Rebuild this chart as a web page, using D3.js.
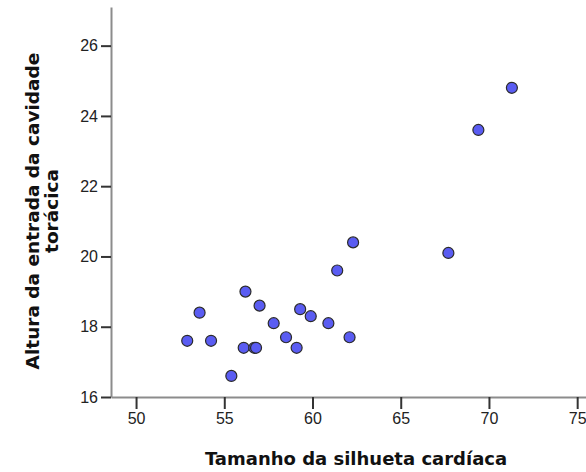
<!DOCTYPE html>
<html>
<head>
<meta charset="utf-8">
<script src="https://cdn.jsdelivr.net/npm/d3@7"></script>
<style>
  body { margin: 0; background: #fff; }
  svg text { font-family: "Liberation Sans", Arial, sans-serif; }
</style>
</head>
<body>
<div class="chart"></div>
<script>
// Tamanho da silhueta cardíaca (x) vs Altura da entrada da cavidade torácica (y)
const silhueta = [52.9, 53.6, 54.25, 55.4, 56.1, 56.2, 56.7, 56.8, 57.0, 57.8, 58.5,
                  59.1, 59.3, 59.9, 60.9, 61.4, 62.1, 62.3, 67.7, 69.4, 71.3];
const cavidade = [17.6, 18.4, 17.6, 16.6, 17.4, 19.0, 17.4, 17.4, 18.6, 18.1, 17.7,
                  17.4, 18.5, 18.3, 18.1, 19.6, 17.7, 20.4, 20.1, 23.6, 24.8];
const xTicks = [50, 55, 60, 65, 70, 75];
const yTicks = [16, 18, 20, 22, 24, 26];

const width = 586, height = 472;
const plot = {left: 111, right: 586, top: 7, bottom: 397};

const x = d3.scaleLinear()
  .domain([48.58, 75.5])
  .range([plot.left, plot.right]);

const y = d3.scaleLinear()
  .domain([16, 27.1])
  .range([plot.bottom, plot.top]);

const svg = d3.select('.chart').append('svg')
  .attr('width', width)
  .attr('height', height);

const xAxis = d3.axisBottom(x).tickValues(xTicks).tickSize(12).tickPadding(4).tickSizeOuter(0);
const yAxis = d3.axisLeft(y).tickValues(yTicks).tickSize(10).tickPadding(3).tickSizeOuter(0);

const gX = svg.append('g')
  .attr('transform', `translate(0, ${plot.bottom})`)
  .call(xAxis);

const gY = svg.append('g')
  .attr('transform', `translate(${plot.left}, 0)`)
  .call(yAxis);

[gX, gY].forEach(g => {
  g.select('.domain').attr('stroke', '#8c8c8c').attr('stroke-width', 2);
  g.selectAll('.tick line').attr('stroke', '#333').attr('stroke-width', 2);
  g.selectAll('.tick text')
    .attr('fill', '#222')
    .style('font-size', '16px')
    .style('font-family', '"Liberation Sans", Arial, sans-serif');
});

svg.append('text')
  .text('Tamanho da silhueta cardíaca')
  .attr('x', 356)
  .attr('y', 465)
  .attr('text-anchor', 'middle')
  .style('font-family', '"DejaVu Sans", sans-serif')
  .attr('font-size', 18)
  .attr('font-weight', 'bold')
  .attr('fill', '#111');

const yLabel = svg.append('text')
  .attr('transform', 'translate(0, 211) rotate(-90)')
  .attr('text-anchor', 'middle')
  .style('font-family', '"DejaVu Sans", sans-serif')
  .attr('font-size', 18.5)
  .attr('font-weight', 'bold')
  .attr('fill', '#111');
yLabel.append('tspan').attr('x', 0).attr('y', 39).text('Altura da entrada da cavidade');
yLabel.append('tspan').attr('x', 0).attr('y', 58).text('torácica');

const points = silhueta.map((v, i) => ({sx: v, cy: cavidade[i]}));

svg.append('g').selectAll('circle')
  .data(points)
  .enter().append('circle')
    .attr('cx', d => x(d.sx))
    .attr('cy', d => y(d.cy))
    .attr('r', 5.5)
    .style('fill', '#5a5cf2')
    .style('stroke', '#2b2b2b')
    .style('stroke-width', 1.2);
</script>
</body>
</html>
